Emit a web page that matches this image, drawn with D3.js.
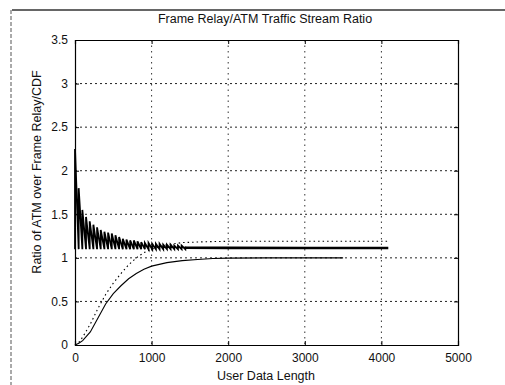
<!DOCTYPE html>
<html>
<head>
<meta charset="utf-8">
<script src="https://cdn.jsdelivr.net/npm/d3@7"></script>
<style>
  body { margin: 0; background: #fff; }
  svg { display: block; font-family: "Liberation Sans", Arial, sans-serif; }
</style>
</head>
<body>
<svg id="chart" width="505" height="385"></svg>
<script>
// ticks
const xTicks = [0, 1000, 2000, 3000, 4000, 5000]
const yTicks = [0, 0.5, 1, 1.5, 2, 2.5, 3, 3.5]
const yTickLabels = ['0', '0.5', '1', '1.5', '2', '2.5', '3', '3.5']

// Frame Relay/ATM ratio: sawtooth peaks, one per 48-byte cell
const toothX = [0, 48, 96, 144, 192, 240, 288, 336, 384, 432, 480, 528, 576, 624, 672,
  720, 768, 816, 864, 912, 960, 1008, 1056, 1104, 1152, 1200, 1248, 1296, 1344, 1392, 1440]
const toothPeak = [2.25, 1.80, 1.55, 1.47, 1.42, 1.38, 1.35, 1.32, 1.30, 1.29, 1.28, 1.26, 1.24, 1.22, 1.21,
  1.20, 1.20, 1.19, 1.18, 1.17, 1.17, 1.16, 1.16, 1.16, 1.15, 1.15, 1.15, 1.14, 1.14, 1.14, 1.13]
const troughRatio = 1.10
// flat tail of the ratio after the oscillation dies out
const tailX = [1440, 2000, 3000, 4090]
const tailY = [1.116, 1.114, 1.113, 1.113]

// solid CDF
const cdfX = [0, 50, 100, 200, 300, 400, 500, 600, 700, 800, 900, 1000, 1200, 1400, 1600, 1800, 2000, 2500, 3500]
const cdfY = [0, 0.02, 0.05, 0.15, 0.31, 0.47, 0.59, 0.68, 0.76, 0.82, 0.87, 0.905, 0.945, 0.968, 0.982, 0.992, 0.997, 1.0, 1.0]

// dotted curve
const dotX = [0, 50, 100, 200, 300, 400, 500, 600, 700, 800, 900, 1000, 1200, 1400, 1700, 2000, 3000, 4090]
const dotY = [0, 0.03, 0.09, 0.24, 0.42, 0.58, 0.71, 0.82, 0.92, 1.0, 1.06, 1.1, 1.15, 1.175, 1.185, 1.19, 1.19, 1.19]

const svg = d3.select('#chart')
const plotLeft = 75, plotRight = 458, plotTop = 40, plotBottom = 345

const x = d3.scaleLinear().domain([0, 5000]).range([plotLeft, plotRight])
const y = d3.scaleLinear().domain([0, 3.5]).range([plotBottom, plotTop])

// scanned window border
svg.append('line')
  .attr('x1', 12).attr('x2', 505).attr('y1', 10).attr('y2', 10)
  .attr('stroke', '#333').attr('stroke-width', 1.5)
svg.append('line')
  .attr('x1', 11).attr('x2', 11).attr('y1', 10).attr('y2', 385)
  .attr('stroke', '#555').attr('stroke-width', 1).attr('stroke-dasharray', '4,2')

// grid
svg.append('g')
  .selectAll('line')
  .data(yTicks.filter(d => d > 0 && d < 3.5))
  .join('line')
  .attr('x1', plotLeft).attr('x2', plotRight)
  .attr('y1', d => y(d)).attr('y2', d => y(d))
  .attr('stroke', '#222').attr('stroke-dasharray', '2,3')

svg.append('g')
  .selectAll('line')
  .data(xTicks.filter(d => d > 0 && d < 5000))
  .join('line')
  .attr('x1', d => x(d)).attr('x2', d => x(d))
  .attr('y1', plotTop).attr('y2', plotBottom)
  .attr('stroke', '#333').attr('stroke-dasharray', '1.5,4')

// axes (inward ticks on all sides, MATLAB box style)
svg.append('g')
  .attr('transform', `translate(0,${plotBottom})`)
  .call(d3.axisBottom(x).tickValues(xTicks).tickSize(-4).tickPadding(8).tickFormat(d3.format('d')))
svg.append('g')
  .attr('transform', `translate(${plotLeft},0)`)
  .call(d3.axisLeft(y).tickValues(yTicks).tickSize(-4).tickPadding(7).tickFormat((d, i) => yTickLabels[i]))
svg.append('g')
  .attr('transform', `translate(0,${plotTop})`)
  .call(d3.axisTop(x).tickValues(xTicks).tickSize(-4).tickFormat(''))
svg.append('g')
  .attr('transform', `translate(${plotRight},0)`)
  .call(d3.axisRight(y).tickValues(yTicks).tickSize(-4).tickFormat(''))

svg.selectAll('.domain').attr('stroke', '#000').attr('stroke-width', 1.2)
svg.selectAll('.tick line').attr('stroke', '#000')
svg.selectAll('.tick text').attr('font-size', 12).attr('fill', '#111')
  .attr('font-family', '"Liberation Sans", Arial, sans-serif')

// ratio sawtooth
const saw = []
toothX.forEach((tx, i) => {
  saw.push([tx, troughRatio])
  saw.push([tx, toothPeak[i]])
  const next = i < toothX.length - 1 ? toothX[i + 1] : tailX[0]
  saw.push([next, troughRatio])
})
const line = d3.line().x(d => x(d[0])).y(d => y(d[1]))

svg.append('path')
  .attr('d', line(saw))
  .attr('fill', 'none').attr('stroke', '#000').attr('stroke-width', 1.8)

svg.append('path')
  .attr('d', line(tailX.map((d, i) => [d, tailY[i]])))
  .attr('fill', 'none').attr('stroke', '#000').attr('stroke-width', 2.6)

svg.append('path')
  .attr('d', line(cdfX.map((d, i) => [d, cdfY[i]])))
  .attr('fill', 'none').attr('stroke', '#000').attr('stroke-width', 1.1)

svg.append('path')
  .attr('d', line(dotX.map((d, i) => [d, dotY[i]])))
  .attr('fill', 'none').attr('stroke', '#000').attr('stroke-width', 1.1)
  .attr('stroke-dasharray', '1.5,3')

// labels
svg.append('text')
  .attr('x', 265).attr('y', 23)
  .attr('text-anchor', 'middle').attr('font-size', 12.5).attr('fill', '#111')
  .text('Frame Relay/ATM Traffic Stream Ratio')

svg.append('text')
  .attr('x', 266).attr('y', 380)
  .attr('text-anchor', 'middle').attr('font-size', 12.5).attr('fill', '#111')
  .text('User Data Length')

svg.append('text')
  .attr('transform', 'translate(41,172) rotate(-90)')
  .attr('text-anchor', 'middle').attr('font-size', 12.5).attr('fill', '#111')
  .text('Ratio of ATM over Frame Relay/CDF')
</script>
</body>
</html>
